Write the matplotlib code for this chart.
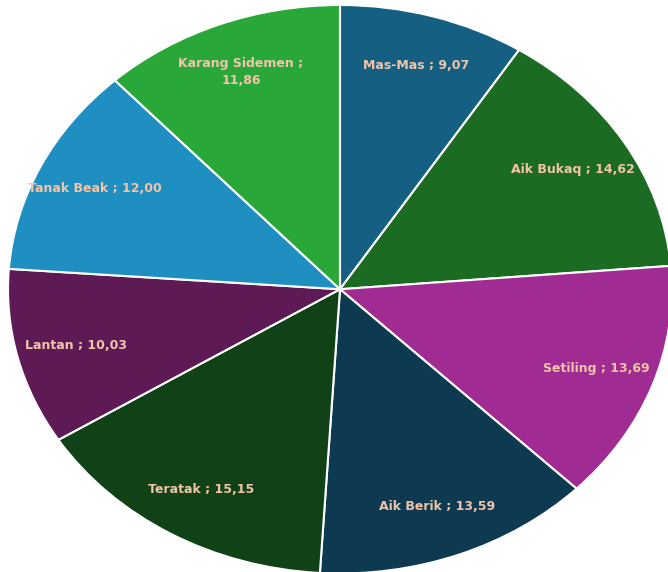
import matplotlib
matplotlib.use('Agg')
import matplotlib.pyplot as plt
import numpy as np

# data
names = ['Mas-Mas', 'Aik Bukaq', 'Setiling', 'Aik Berik', 'Teratak',
         'Lantan', 'Tanak Beak', 'Karang Sidemen']
values = [9.07, 14.62, 13.69, 13.59, 15.15, 10.03, 12.00, 11.86]
colors = ['#156082', '#1b6b23', '#a02b93', '#0e3a51', '#114217',
          '#5e1a54', '#1f8fc2', '#29a839']

fig = plt.figure(figsize=(6.68, 5.72), dpi=100)
ax = fig.add_axes([8/668, -1.5/572, 664/668, 568.5/572])

wedges, _ = ax.pie(values, colors=colors, startangle=90, counterclock=False,
                   wedgeprops=dict(edgecolor='white', linewidth=1.5))
ax.set_aspect('auto')
ax.set_xlim(-1, 1)
ax.set_ylim(-1, 1)
ax.axis('off')

# labels inside the slices
total = sum(values)
cum = 0.
for name, v in zip(names, values):
    mid = np.deg2rad(90 - (cum + v/2)/total*360)
    cum += v
    r = 0.82
    val = ('%.2f' % v).replace('.', ',')
    txt = '%s ; %s' % (name, val)
    if name == 'Karang Sidemen':
        txt = '%s ;\n%s' % (name, val)
    ax.text(r*np.cos(mid), r*np.sin(mid), txt, ha='center', va='center',
            color='#f2c4a8', fontsize=9, fontweight='bold',
            family='DejaVu Sans', linespacing=1.35)

fig.savefig('out.png', dpi=100)
